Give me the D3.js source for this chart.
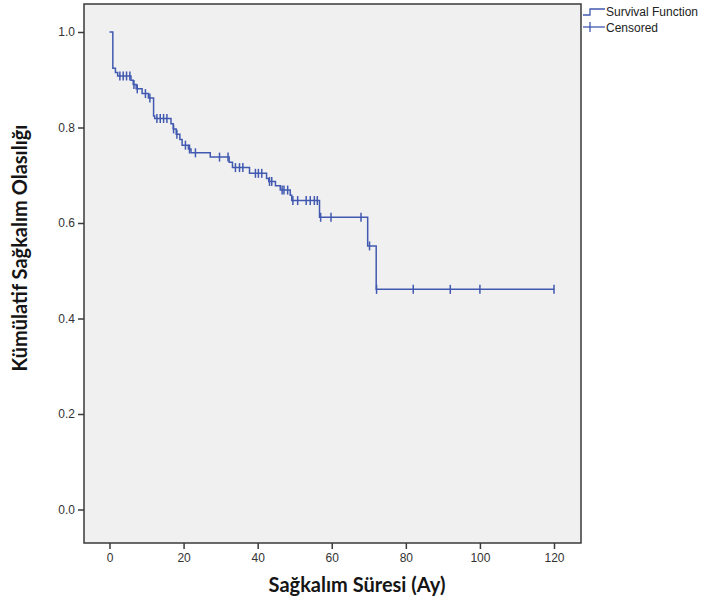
<!DOCTYPE html>
<html>
<head>
<meta charset="utf-8">
<script src="https://cdn.jsdelivr.net/npm/d3@7"></script>
<style>
  html, body { margin: 0; padding: 0; background: #ffffff; }
  svg { display: block; }
</style>
</head>
<body>
<svg id="chart" width="708" height="605"></svg>
<script>
// ---- Data ----
const eventTimes = [0.9, 1.6, 2.2, 5.8, 6.4, 7.2, 8.8, 10.5, 11.9, 12.2, 16.6, 17.2, 18.0, 19.0, 19.6,
  21.3, 22.0, 27.2, 32.3, 33.2, 37.8, 42.4, 43.0, 44.8, 46.1, 48.8, 49.2, 56.7, 69.7, 72.0];
const eventSurvival = [0.924, 0.915, 0.908, 0.899, 0.890, 0.881, 0.871, 0.862, 0.824, 0.819, 0.808, 0.797, 0.786, 0.775, 0.763,
  0.755, 0.747, 0.738, 0.727, 0.716, 0.704, 0.693, 0.687, 0.678, 0.669, 0.658, 0.647, 0.612, 0.552, 0.461];
const censoredTimes = [2.8, 3.7, 4.6, 5.5, 6.6, 7.5, 9.7, 10.9, 12.8, 13.7, 14.6, 15.5, 17.3, 18.2, 20.5, 21.6, 23.2,
  29.7, 32.0, 34.0, 35.1, 36.0, 39.4, 40.2, 41.1, 43.2, 43.8, 46.6, 47.1, 48.1, 49.5, 50.8, 53.1, 54.2, 55.3, 56.1,
  57.0, 59.8, 67.9, 70.2, 72.1, 82, 92, 100, 120];
const endTime = 120;
const xTicks = [0, 20, 40, 60, 80, 100, 120];
const yTicks = [0.0, 0.2, 0.4, 0.6, 0.8, 1.0];
const xTitle = "Sağkalım Süresi (Ay)";
const yTitle = "Kümülatif Sağkalım Olasılığı";
const legendLabels = ["Survival Function", "Censored"];

// ---- Layout ----
const svg = d3.select("#chart");
const frame = { left: 84, top: 4, right: 581, bottom: 543 };
const x = d3.scaleLinear().domain([0, 120]).range([109.5, 554]);
const y = d3.scaleLinear().domain([0, 1]).range([509.5, 32]);
const lineColor = "#4159b0";

// plot background
svg.append("rect")
  .attr("x", frame.left).attr("y", frame.top)
  .attr("width", frame.right - frame.left).attr("height", frame.bottom - frame.top)
  .attr("fill", "#f0f0f0").attr("stroke", "#3a3a3a").attr("stroke-width", 1.5);

// axes
const yAxis = d3.axisLeft(y).tickValues(yTicks).tickFormat(d3.format(".1f")).tickSize(6).tickPadding(3);
const gy = svg.append("g").attr("transform", `translate(${frame.left},0)`).call(yAxis);
const xAxis = d3.axisBottom(x).tickValues(xTicks).tickFormat(d3.format("d")).tickSize(6).tickPadding(4);
const gx = svg.append("g").attr("transform", `translate(0,${frame.bottom})`).call(xAxis);
[gx, gy].forEach(g => {
  g.select(".domain").remove();
  g.selectAll(".tick line").attr("stroke", "#3a3a3a").attr("stroke-width", 1.5);
  g.selectAll(".tick text").attr("fill", "#333").style("font-family", "Liberation Sans, Arial, sans-serif").style("font-size", "12px");
});

// survival step line
const pts = [[0, 1]].concat(eventTimes.map((t, i) => [t, eventSurvival[i]]));
pts.push([endTime, eventSurvival[eventSurvival.length - 1]]);
const line = d3.line().x(d => x(d[0])).y(d => y(d[1])).curve(d3.curveStepAfter);
svg.append("path").attr("d", line(pts)).attr("fill", "none")
  .attr("stroke", lineColor).attr("stroke-width", 1.5);

// censored marks
function survAt(t) {
  let s = 1;
  for (let i = 0; i < eventTimes.length; i++) if (eventTimes[i] <= t) s = eventSurvival[i];
  return s;
}
svg.append("g").selectAll("line").data(censoredTimes).join("line")
  .attr("x1", d => x(d)).attr("x2", d => x(d))
  .attr("y1", d => y(survAt(d)) - 4.5).attr("y2", d => y(survAt(d)) + 4.5)
  .attr("stroke", lineColor).attr("stroke-width", 1.5);

// titles
svg.append("text").attr("x", 357).attr("y", 592).attr("text-anchor", "middle")
  .style("font-family", "Lato, sans-serif").style("font-weight", "bold").style("font-size", "20px")
  .attr("fill", "#151515").text(xTitle);
svg.append("text").attr("transform", "translate(27,248) rotate(-90)").attr("text-anchor", "middle")
  .style("font-family", "Lato, sans-serif").style("font-weight", "bold").style("font-size", "20px")
  .attr("fill", "#151515").text(yTitle);

// legend
const lg = svg.append("g");
lg.append("path").attr("d", "M583,15 H590 V9 H605").attr("fill", "none")
  .attr("stroke", lineColor).attr("stroke-width", 1.3);
lg.append("line").attr("x1", 583).attr("x2", 605).attr("y1", 27).attr("y2", 27)
  .attr("stroke", lineColor).attr("stroke-width", 1.3);
lg.append("line").attr("x1", 590).attr("x2", 590).attr("y1", 22).attr("y2", 32)
  .attr("stroke", lineColor).attr("stroke-width", 1.3);
lg.selectAll("text").data(legendLabels).join("text")
  .attr("x", 606).attr("y", (d, i) => 16 + i * 16)
  .style("font-family", "Liberation Sans, Arial, sans-serif").style("font-size", "12px")
  .attr("fill", "#222").text(d => d);
</script>
</body>
</html>
